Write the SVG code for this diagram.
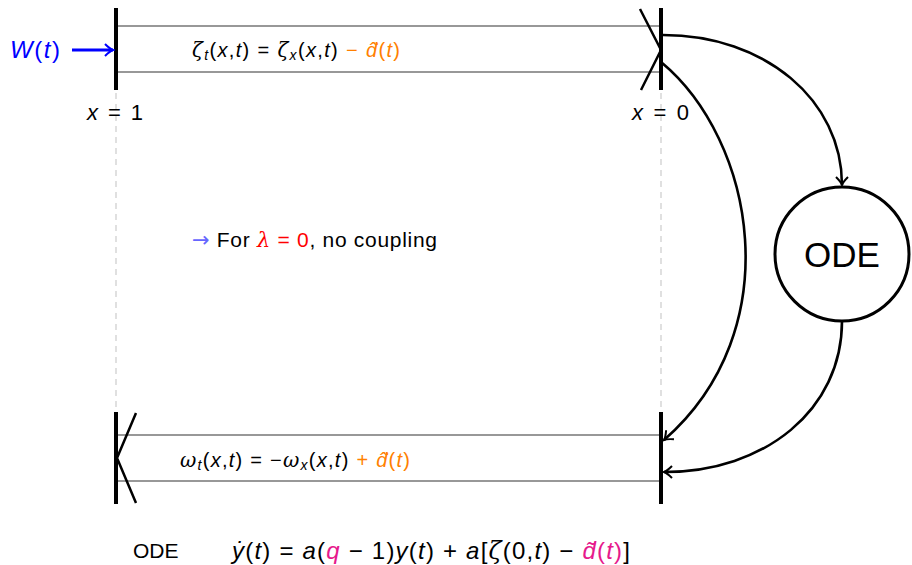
<svg xmlns="http://www.w3.org/2000/svg" width="912" height="565" viewBox="0 0 912 565">
<style>
text{font-family:"Liberation Sans",Arial,sans-serif;fill:#000}
.i{font-style:italic}
.g{font-family:"DejaVu Serif","Liberation Serif",serif;font-style:italic}
.bar{stroke:#000;stroke-width:4;fill:none}
.thin{stroke:#333;stroke-width:1.2;fill:none}
.sl{stroke:#000;stroke-width:2.5;fill:none}
.dash{stroke:#ccc;stroke-width:1.2;stroke-dasharray:6,5;fill:none}
.conn{stroke:#000;stroke-width:2.6;fill:none;marker-end:url(#ah)}
.or{fill:#ff8000}
.mg{fill:#e6198c}
</style>
<defs>
<marker id="ah" viewBox="-10 -7 12 14" markerWidth="12" markerHeight="14" refX="0" refY="0" orient="auto" markerUnits="userSpaceOnUse">
<path d="M-8,-6 Q-3,-1 0,0 Q-3,1 -8,6" stroke="#000" stroke-width="2" fill="none"/>
</marker>
<marker id="bh" viewBox="-10 -7 12 14" markerWidth="12" markerHeight="14" refX="0" refY="0" orient="auto" markerUnits="userSpaceOnUse">
<path d="M-8,-6 Q-3,-1 0,0 Q-3,1 -8,6" stroke="#0000ff" stroke-width="2" fill="none"/>
</marker>
</defs>

<g id="guides">
<line class="dash" x1="116" y1="93" x2="116" y2="410"/>
<line class="dash" x1="661" y1="93" x2="661" y2="410"/>
</g>

<g id="zeta-channel">
<line class="thin" x1="116" y1="26" x2="661" y2="26"/>
<line class="thin" x1="116" y1="72" x2="661" y2="72"/>
<line class="bar" x1="116" y1="8" x2="116" y2="90"/>
<line class="bar" x1="661" y1="8" x2="661" y2="90"/>
<polyline class="sl" points="640,9 661,50 641,90"/>
<text x="192" y="57" font-size="20" textLength="208" lengthAdjust="spacing"><tspan class="g">ζ</tspan><tspan class="i" font-size="14" dy="3">t</tspan><tspan dy="-3">(</tspan><tspan class="i">x</tspan>,<tspan class="i">t</tspan>) = <tspan class="g">ζ</tspan><tspan class="i" font-size="14" dy="3">x</tspan><tspan dy="-3">(</tspan><tspan class="i">x</tspan>,<tspan class="i">t</tspan>)<tspan class="or"> − </tspan><tspan class="i or">d̂̇</tspan><tspan class="or">(</tspan><tspan class="i or">t</tspan><tspan class="or">)</tspan></text>
</g>

<g id="input">
<text x="10" y="58" font-size="24" textLength="50" lengthAdjust="spacing" class="i" style="fill:#0000ff">W<tspan font-style="normal">(</tspan>t<tspan font-style="normal">)</tspan></text>
<line x1="72" y1="50" x2="113" y2="50" stroke="#0000ff" stroke-width="3" marker-end="url(#bh)"/>
</g>

<g id="labels">
<text x="87" y="120" font-size="22" textLength="56" lengthAdjust="spacing"><tspan class="i">x</tspan> = 1</text>
<text x="632" y="120" font-size="22" textLength="57" lengthAdjust="spacing"><tspan class="i">x</tspan> = 0</text>
</g>

<g id="note">
<text x="192" y="247" font-size="21" textLength="245" lengthAdjust="spacing"><tspan style="fill:#6666ff;font-family:'DejaVu Sans',sans-serif">→</tspan> For <tspan class="g" style="fill:#ff0000">λ</tspan><tspan style="fill:#ff0000"> = 0</tspan>, no coupling</text>
</g>

<g id="omega-channel">
<line class="thin" x1="116" y1="435" x2="661" y2="435"/>
<line class="thin" x1="116" y1="481" x2="661" y2="481"/>
<line class="bar" x1="116" y1="412" x2="116" y2="504"/>
<line class="bar" x1="661" y1="412" x2="661" y2="504"/>
<polyline class="sl" points="136,413 117,458 136,503"/>
<text x="180" y="467" font-size="20" textLength="230" lengthAdjust="spacing"><tspan class="g">ω</tspan><tspan class="i" font-size="14" dy="3">t</tspan><tspan dy="-3">(</tspan><tspan class="i">x</tspan>,<tspan class="i">t</tspan>) = −<tspan class="g">ω</tspan><tspan class="i" font-size="14" dy="3">x</tspan><tspan dy="-3">(</tspan><tspan class="i">x</tspan>,<tspan class="i">t</tspan>)<tspan class="or"> + </tspan><tspan class="i or">d̂̇</tspan><tspan class="or">(</tspan><tspan class="i or">t</tspan><tspan class="or">)</tspan></text>
</g>

<g id="ode">
<circle cx="842" cy="254" r="67" fill="#fff" stroke="#000" stroke-width="3"/>
<text x="842" y="267" font-size="35" text-anchor="middle">ODE</text>
</g>

<g id="connectors">
<path class="conn" d="M663,35 C765,35 842,100 842,185"/>
<path class="conn" d="M661,62 C755,140 790,330 664,440"/>
<path class="conn" d="M842,321 C842,410 765,472 664,472"/>
</g>

<g id="equation">
<text x="133" y="558" font-size="21">ODE</text>
<text x="232" y="559" font-size="24" textLength="398" lengthAdjust="spacing"><tspan class="i">ẏ</tspan>(<tspan class="i">t</tspan>) = <tspan class="i">a</tspan>(<tspan class="i mg">q</tspan> − 1)<tspan class="i">y</tspan>(<tspan class="i">t</tspan>) + <tspan class="i">a</tspan>[<tspan class="g">ζ</tspan>(0,<tspan class="i">t</tspan>) − <tspan class="i mg">d̃</tspan><tspan class="mg">(</tspan><tspan class="i mg">t</tspan><tspan class="mg">)</tspan>]</text>
</g>
</svg>
